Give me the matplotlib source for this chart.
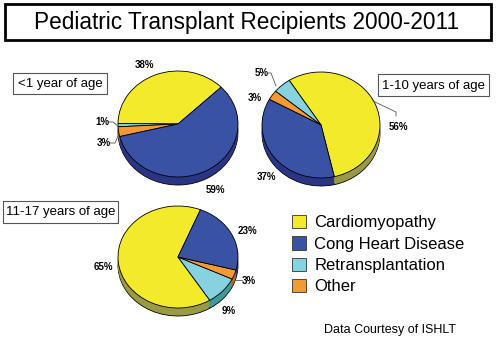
import matplotlib
matplotlib.use("Agg")
import matplotlib.pyplot as plt
from matplotlib.patches import Rectangle, Patch

plt.rcParams['font.family'] = ['Liberation Sans', 'DejaVu Sans']

# data (percent of recipients by diagnosis)
categories = ['Cardiomyopathy', 'Cong Heart Disease', 'Retransplantation', 'Other']
infant = [38, 59, 1, 3]
child = [56, 37, 5, 3]
adolescent = [65, 23, 9, 3]
group_names = ['<1 year of age', '1-10 years of age', '11-17 years of age']

top_colors = ['#F2EA2A', '#3A52A3', '#86D3DF', '#F59A32']
side_colors = ['#9A9A45', '#2B3585', '#3F9A9A', '#B06A20']
draw_order = [0, 2, 3, 1]  # cardio, retrans, other, cong (counter-clockwise)

W, H = 496, 337
fig = plt.figure(figsize=(W / 100, H / 100), dpi=100)


def pie3d(values, cx, cy, rx, ry, depth, start):
    # axes placed in pixel coords (y measured from top)
    m = 1.1
    left = cx - m * rx
    top = cy - m * ry
    bot = cy + m * ry + depth
    ax = fig.add_axes([left / W, 1 - bot / H, 2 * m * rx / W, (bot - top) / H])
    vals = [values[i] for i in draw_order]
    tops = [top_colors[i] for i in draw_order]
    sides = [side_colors[i] for i in draw_order]
    d = depth / ry
    n = int(depth)
    # bottom rim with outline
    ax.pie(vals, colors=sides, startangle=start, center=(0, -d),
           wedgeprops=dict(edgecolor='black', linewidth=0.6), frame=True)
    for k in range(n - 1, 0, -1):
        ax.pie(vals, colors=sides, startangle=start, center=(0, -d * k / n),
               wedgeprops=dict(linewidth=0), frame=True)
    ax.pie(vals, colors=tops, startangle=start, center=(0, 0),
           wedgeprops=dict(edgecolor='black', linewidth=0.6), frame=True)
    ax.set_aspect('auto')
    ax.set_xlim(-m, m)
    ax.set_ylim(-m - d, m)
    ax.axis('off')
    return ax


pie3d(infant, 178, 124, 60, 53, 8, 44)
pie3d(child, 321, 125, 59, 53, 8, -77)
pie3d(adolescent, 178, 257, 60, 51, 8, 68)

# overlay in pixel coordinates
ov = fig.add_axes([0, 0, 1, 1])
ov.set_xlim(0, W)
ov.set_ylim(H, 0)
ov.axis('off')
ov.patch.set_alpha(0)

# title
ov.add_patch(Rectangle((5, 4), 486, 36, fill=False, edgecolor='black', linewidth=2))
ov.text(247, 22, 'Pediatric Transplant Recipients 2000-2011', ha='center', va='center',
        fontsize=16.3)

# group boxes
boxes = [(13, 73, 94, 21), (378, 74, 111, 22), (3, 201, 115, 22)]
for (x, y, w, h), name in zip(boxes, group_names):
    ov.add_patch(Rectangle((x, y), w, h, fill='white', facecolor='white',
                           edgecolor='#555555', linewidth=0.8))
    ov.text(x + w / 2, y + h / 2 + 0.5, name, ha='center', va='center', fontsize=9.5)

# percent labels
lab = dict(fontsize=7, fontweight='bold', ha='center', va='center')
ov.text(144, 65, '38%', **lab)
ov.text(215, 190, '59%', **lab)
ov.text(102, 122, '1%', **lab)
ov.text(104, 143, '3%', **lab)
ov.plot([108, 113, 118], [122, 122, 126], color='#555555', lw=0.6)
ov.plot([110, 115, 119], [143, 143, 134], color='#555555', lw=0.6)

ov.text(262, 73, '5%', **lab)
ov.text(255, 98, '3%', **lab)
ov.text(398, 127, '56%', **lab)
ov.text(266, 177, '37%', **lab)
ov.plot([268, 271, 276], [73, 73, 86], color='#555555', lw=0.6)
ov.plot([373, 396, 396], [101, 112, 116], color='#555555', lw=0.6)

ov.text(247, 231, '23%', **lab)
ov.text(103, 267, '65%', **lab)
ov.text(249, 281, '3%', **lab)
ov.text(229, 311, '9%', **lab)
ov.plot([236, 242], [280, 280], color='#555555', lw=0.6)

# legend
handles = [Patch(facecolor=c, edgecolor='#333333', linewidth=0.6) for c in top_colors]
ov.legend(handles, categories, loc='upper left', bbox_to_anchor=(292 / W, 1 - 215 / H),
          frameon=False, fontsize=12, handlelength=0.85, handleheight=0.85,
          handletextpad=0.5, labelspacing=0.35, borderpad=0, borderaxespad=0)

ov.text(390, 330, 'Data Courtesy of ISHLT', ha='center', va='center', fontsize=9)

fig.savefig('out.png', dpi=100)
